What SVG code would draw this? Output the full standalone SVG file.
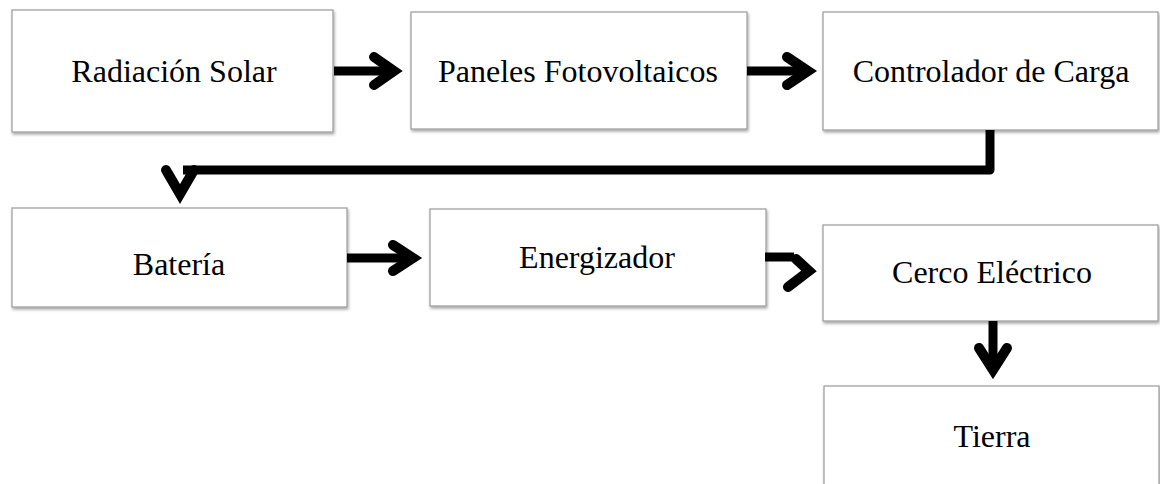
<svg xmlns="http://www.w3.org/2000/svg" width="1160" height="484" viewBox="0 0 1160 484">
<defs>
<filter id="sh" x="-5%" y="-10%" width="115%" height="130%">
<feDropShadow dx="1" dy="2" stdDeviation="1.5" flood-color="#000" flood-opacity="0.35"/>
</filter>
</defs>
<style>
.box{fill:#fff;stroke:#9a9a9a;stroke-width:1.2;filter:url(#sh)}
.lbl{font-family:"Liberation Serif","Times New Roman",serif;font-size:32px;fill:#000;text-anchor:middle}
.ln{fill:none;stroke:#000;stroke-width:9;stroke-linejoin:round}
.hd{fill:none;stroke:#000;stroke-width:10;stroke-linecap:round;stroke-linejoin:miter;stroke-miterlimit:6}
</style>
<rect width="1160" height="484" fill="#fff"/>
<g id="n1"><rect class="box" x="12" y="10" width="321" height="122"/><text class="lbl" x="174" y="82">Radiación Solar</text></g>
<g id="n2"><rect class="box" x="411" y="12" width="336" height="117"/><text class="lbl" x="578" y="82">Paneles Fotovoltaicos</text></g>
<g id="n3"><rect class="box" x="823" y="12" width="335" height="118"/><text class="lbl" x="991" y="82">Controlador de Carga</text></g>
<g id="n4"><rect class="box" x="12" y="208" width="335" height="99"/><text class="lbl" x="179" y="275">Batería</text></g>
<g id="n5"><rect class="box" x="430" y="209" width="336" height="97"/><text class="lbl" x="597" y="268">Energizador</text></g>
<g id="n6"><rect class="box" x="823" y="225" width="335" height="96"/><text class="lbl" x="992" y="283">Cerco Eléctrico</text></g>
<g id="n7"><rect class="box" x="824" y="386" width="335" height="110"/><text class="lbl" x="992" y="447">Tierra</text></g>
<g id="connectors">
<path class="ln" d="M334,71 H392"/>
<path class="hd" d="M374,57 L394,71 L374,85"/>
<path class="ln" d="M747,71 H806"/>
<path class="hd" d="M787,57 L808,71 L787,85"/>
<path class="ln" d="M990,130 V170 H183"/>
<path class="hd" d="M166,170 L180,194 L194,170"/>
<path class="ln" d="M347,258 H410"/>
<path class="hd" d="M393,245 L413,258 L393,271"/>
<path class="ln" d="M765,257 H794"/>
<path class="hd" d="M796,259 L809,271 L788,287"/>
<path class="ln" d="M993,321 V368"/>
<path class="hd" d="M979,348 L993,370 L1007,348"/>
</g>
</svg>
